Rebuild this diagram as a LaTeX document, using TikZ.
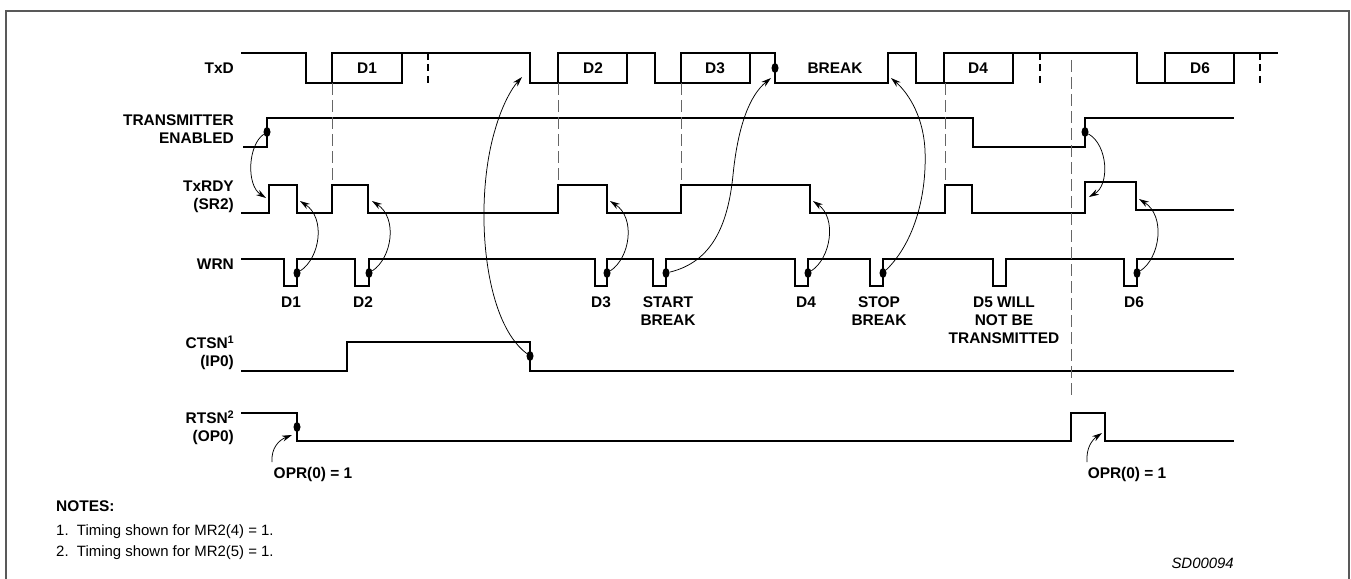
\documentclass[tikz,border=0pt]{standalone}
\usepackage{fontspec}
\setmainfont{Liberation Sans}
\usetikzlibrary{arrows.meta, shapes}
\tikzstyle{signal} = [line width=2.2bp]
\tikzstyle{bitmark} = [line width=2.2bp, dash pattern=on 7bp off 4.5bp]
\tikzstyle{guide} = [line width=0.7bp, draw=black!60, dash pattern=on 12bp off 5bp]
\tikzstyle{cause} = [line width=0.75bp, -{Stealth[length=10bp, width=6bp]}]
\tikzstyle{dot} = [ellipse, fill=black, inner sep=0, minimum width=7bp, minimum height=10bp]
\tikzstyle{lbl} = [font=\bfseries\fontsize{15.5}{18}\selectfont, inner sep=0, text height=11bp, text depth=0bp]
\tikzstyle{note} = [font=\fontsize{15}{18}\selectfont, inner sep=0, text height=11bp, text depth=0bp, anchor=west]
\newcommand{\supnum}[1]{\raisebox{5bp}{\fontsize{11}{11}\selectfont #1}}

\begin{document}
\begin{tikzpicture}[x=1bp, y=-1bp]
				\useasboundingbox (0,0) rectangle (1351,579);
				\draw[line width=1.1bp, black!65] (6,579) -- (6,11) -- (1349,11) -- (1349,579);

				% signal names
				\node[lbl, anchor=east] (TxdName) at (234,68) {TxD};
				\node[lbl, anchor=east] (TeNameA) at (234,120) {TRANSMITTER};
				\node[lbl, anchor=east] (TeNameB) at (234,138) {ENABLED};
				\node[lbl, anchor=east] (RdyNameA) at (234,186) {TxRDY};
				\node[lbl, anchor=east] (RdyNameB) at (234,204) {(SR2)};
				\node[lbl, anchor=east] (WrnName) at (234,264) {WRN};
				\node[lbl, anchor=east] (CtsNameA) at (234,343) {CTSN\supnum{1}};
				\node[lbl, anchor=east] (CtsNameB) at (234,361) {(IP0)};
				\node[lbl, anchor=east] (RtsNameA) at (234,418) {RTSN\supnum{2}};
				\node[lbl, anchor=east] (RtsNameB) at (234,436) {(OP0)};

				% TxD
				\draw[signal] (241,53) -- (306,53) -- (306,83) -- (332,83);
				\draw[signal] (332,53) rectangle (402,83);
				\draw[signal] (402,53) -- (530,53) -- (530,83) -- (558,83);
				\draw[signal] (558,53) rectangle (627,83);
				\draw[signal] (627,53) -- (655,53) -- (655,83) -- (681,83);
				\draw[signal] (681,53) rectangle (750,83);
				\draw[signal] (750,53) -- (775,53) -- (775,83) -- (888,83) -- (888,53) -- (916,53) -- (916,83) -- (944,83);
				\draw[signal] (944,53) rectangle (1013,83);
				\draw[signal] (1013,53) -- (1137,53) -- (1137,83) -- (1165,83);
				\draw[signal] (1165,53) rectangle (1234,83);
				\draw[signal] (1234,53) -- (1278,53);
				\draw[bitmark] (428,53) -- (428,83);
				\draw[bitmark] (1040,53) -- (1040,83);
				\draw[bitmark] (1260,53) -- (1260,83);
				\node[lbl] (BoxD1) at (367,68) {D1};
				\node[lbl] (BoxD2) at (593,68) {D2};
				\node[lbl] (BoxD3) at (715,68) {D3};
				\node[lbl] (BoxBrk) at (835,68) {BREAK};
				\node[lbl] (BoxD4) at (978,68) {D4};
				\node[lbl] (BoxD6) at (1200,68) {D6};
				\node[dot] (BrkDot) at (775,68) {};

				% transmitter enabled
				\draw[signal] (243,147) -- (267,147) -- (267,118) -- (973,118) -- (973,147) -- (1085,147) -- (1085,118) -- (1234,118);
				\node[dot] (EnDotA) at (267,132) {};
				\node[dot] (EnDotB) at (1085,132) {};

				% TxRDY
				\draw[signal] (241,213) -- (269,213) -- (269,185) -- (297,185) -- (297,213) -- (332,213) -- (332,185) -- (368,185) -- (368,213)
				    -- (558,213) -- (558,185) -- (607,185) -- (607,213) -- (681,213) -- (681,185) -- (810,185) -- (810,213)
				    -- (945,213) -- (945,185) -- (972,185) -- (972,213) -- (1085,213) -- (1085,182) -- (1136,182) -- (1136,210) -- (1234,210);

				% WRN
				\draw[signal] (241,259) -- (284,259) -- (284,286) -- (297,286) -- (297,259) -- (355,259) -- (355,286) -- (369,286) -- (369,259)
				    -- (595,259) -- (595,286) -- (607,286) -- (607,259) -- (653,259) -- (653,286) -- (666,286) -- (666,259)
				    -- (795,259) -- (795,286) -- (808,286) -- (808,259) -- (870,259) -- (870,286) -- (883,286) -- (883,259)
				    -- (993,259) -- (993,286) -- (1006,286) -- (1006,259) -- (1124,259) -- (1124,286) -- (1137,286) -- (1137,259) -- (1234,259);
				\node[dot] (WrnD1) at (297,273) {};
				\node[dot] (WrnD2) at (369,273) {};
				\node[dot] (WrnD3) at (607,273) {};
				\node[dot] (WrnBrk) at (666,273) {};
				\node[dot] (WrnD4) at (808,273) {};
				\node[dot] (WrnStp) at (883,273) {};
				\node[dot] (WrnD6) at (1137,273) {};
				\node[lbl] (WrD1) at (291,302) {D1};
				\node[lbl] (WrD2) at (363,302) {D2};
				\node[lbl] (WrD3) at (601,302) {D3};
				\node[lbl] (StartA) at (668,302) {START};
				\node[lbl] (StartB) at (668,320) {BREAK};
				\node[lbl] (WrD4) at (806,302) {D4};
				\node[lbl] (StopA) at (879,302) {STOP};
				\node[lbl] (StopB) at (879,320) {BREAK};
				\node[lbl] (LostA) at (1004,302) {D5 WILL};
				\node[lbl] (LostB) at (1004,320) {NOT BE};
				\node[lbl] (LostC) at (1004,338) {TRANSMITTED};
				\node[lbl] (WrD6) at (1134,302) {D6};

				% CTSN
				\draw[signal] (241,371) -- (347,371) -- (347,342) -- (530,342) -- (530,371) -- (1234,371);
				\node[dot] (CtsDot) at (530,356) {};

				% RTSN
				\draw[signal] (241,413) -- (297,413) -- (297,441) -- (1071,441) -- (1071,413) -- (1105,413) -- (1105,441) -- (1234,441);
				\node[dot] (RtsDot) at (297,427) {};
				\node[lbl] (OprA) at (313,473) {OPR(0) = 1};
				\node[lbl] (OprB) at (1127,473) {OPR(0) = 1};

				% timing guides
				\draw[guide] (332,83) -- (332,185);
				\draw[guide] (558,83) -- (558,185);
				\draw[guide] (681,83) -- (681,185);
				\draw[guide] (945,83) -- (945,185);
				\draw[guide] (1071,60) -- (1071,400);

				% cause and effect
				\coordinate (RdyUpA) at (266,198);
				\coordinate (RdyUpB) at (1089,197);
				\coordinate (RdyDnA) at (300,201);
				\coordinate (RdyDnB) at (372,201);
				\coordinate (RdyDnC) at (610,201);
				\coordinate (RdyDnD) at (813,201);
				\coordinate (RdyDnE) at (1139,199);
				\coordinate (TxdFall) at (522,77);
				\coordinate (BrkTip) at (771,78);
				\coordinate (StpTip) at (891,78);
				\coordinate (OprTailA) at (272,462);
				\coordinate (OprTipA) at (292,435);
				\coordinate (OprTailB) at (1087,462);
				\coordinate (OprTipB) at (1102,433);
				\draw[cause] (EnDotA) .. controls (248,145) and (246,185) .. (RdyUpA);
				\draw[cause] (EnDotB) .. controls (1108,145) and (1110,185) .. (RdyUpB);
				\draw[cause] (WrnD1) .. controls (320,258) and (326,218) .. (RdyDnA);
				\draw[cause] (WrnD2) .. controls (392,258) and (398,218) .. (RdyDnB);
				\draw[cause] (WrnD3) .. controls (630,258) and (636,218) .. (RdyDnC);
				\draw[cause] (WrnD4) .. controls (831,258) and (837,218) .. (RdyDnD);
				\draw[cause] (WrnD6) .. controls (1160,258) and (1166,216) .. (RdyDnE);
				\draw[cause] (CtsDot) .. controls (482,320) and (474,200) .. (495,130) .. controls (502,105) and (512,88) .. (TxdFall);
				\draw[cause] (WrnBrk) .. controls (712,262) and (728,225) .. (733,175) .. controls (738,125) and (750,95) .. (BrkTip);
				\draw[cause] (WrnStp) .. controls (912,245) and (927,200) .. (925,150) .. controls (923,112) and (905,90) .. (StpTip);
				\draw[cause] (OprTailA) .. controls (271,448) and (279,440) .. (OprTipA);
				\draw[cause] (OprTailB) .. controls (1086,448) and (1092,440) .. (OprTipB);

				% notes
				\node[lbl, anchor=west] (NoteHead) at (56,506) {NOTES:};
				\node[note] (NoteOne) at (56,530) {1.\ \ Timing shown for MR2(4) = 1.};
				\node[note] (NoteTwo) at (56,551) {2.\ \ Timing shown for MR2(5) = 1.};
				\node[note, anchor=east, font=\itshape\fontsize{15}{18}\selectfont] (FigCode) at (1234,563) {SD00094};
			\end{tikzpicture}
\end{document}
